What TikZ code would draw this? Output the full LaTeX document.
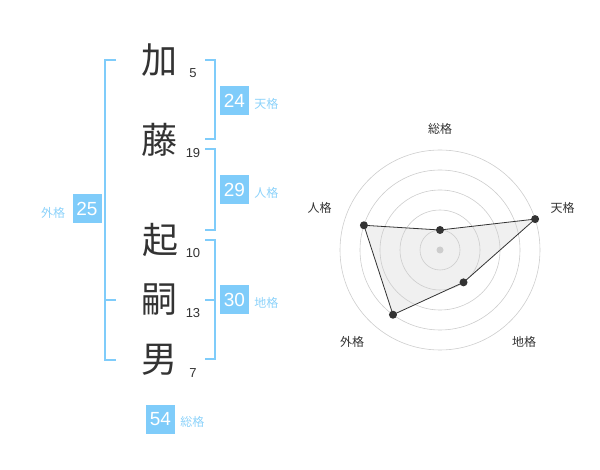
\documentclass[tikz,border=0pt]{standalone}
\usepackage{fontspec}
\setmainfont{Liberation Sans}
\newfontfamily\jpfont{Noto Sans CJK JP}
\usetikzlibrary{positioning}
\definecolor{kakublue}{RGB}{127,204,250}
\definecolor{kakutext}{RGB}{140,210,250}
\definecolor{inkgray}{RGB}{51,51,51}
\definecolor{ringgray}{RGB}{205,205,205}
\definecolor{fillgray}{RGB}{240,240,240}

\tikzset{
  kanji/.style={font=\jpfont\fontsize{36}{36}\selectfont, text=inkgray, inner sep=0pt},
  strokes/.style={font=\fontsize{13}{13}\selectfont, text=inkgray, inner sep=0pt},
  kakubox/.style={fill=kakublue, text=white, minimum size=29pt, inner sep=0pt, font=\fontsize{19}{19}\selectfont},
  kakulabel/.style={font=\jpfont\fontsize{12}{12}\selectfont, text=kakutext, inner sep=0pt},
  bracket/.style={draw=kakublue, line width=2pt},
  axislabel/.style={font=\jpfont\fontsize{12}{12}\selectfont, text=inkgray, inner sep=0pt},
  vertex/.style={circle, fill=inkgray, inner sep=0pt, minimum size=8pt},
}

\begin{document}
\begin{tikzpicture}[x=1pt, y=-1pt]

   \useasboundingbox (0,0) rectangle (600,470);

   % name and stroke counts
   \node[kanji] (ka) at (159,60) {加};
   \node[kanji] (to) at (159,140) {藤};
   \node[kanji] (oki) at (160,240) {起};
   \node[kanji] (tsugu) at (159,300) {嗣};
   \node[kanji] (o) at (159,360) {男};

   \node[strokes] (kacount) at (193,73) {5};
   \node[strokes] (tocount) at (193,153) {19};
   \node[strokes] (okicount) at (193,253) {10};
   \node[strokes] (tsugucount) at (193,313) {13};
   \node[strokes] (ocount) at (193,373) {7};

   % brackets
   \draw[bracket] (116,60) -- (105,60) -- (105,360) -- (116,360);
   \draw[bracket] (105,300) -- (116,300);
   \draw[bracket] (205,60) -- (215,60) -- (215,139) -- (205,139);
   \draw[bracket] (205,149) -- (215,149) -- (215,230) -- (205,230);
   \draw[bracket] (205,240) -- (215,240) -- (215,359) -- (205,359);
   \draw[bracket] (205,300) -- (215,300);

   % kaku values
   \node[kakubox] (tenkaku) at (234.5,100.5) {24};
   \node[kakulabel, right=5pt of tenkaku, yshift=-3pt] (tenlabel) {天格};
   \node[kakubox] (jinkaku) at (234.5,190) {29};
   \node[kakulabel, right=5pt of jinkaku, yshift=-3pt] (jinlabel) {人格};
   \node[kakubox] (chikaku) at (234.5,300) {30};
   \node[kakulabel, right=5pt of chikaku, yshift=-3pt] (chilabel) {地格};
   \node[kakubox] (gaikaku) at (87,209) {25};
   \node[kakulabel, left=7pt of gaikaku, yshift=-4pt] (gailabel) {外格};
   \node[kakubox] (soukaku) at (160.5,419) {54};
   \node[kakulabel, right=5pt of soukaku, yshift=-3pt] (soulabel) {総格};

   % radar chart
   \begin{scope}[shift={(440,250)}, y=1pt]
      \coordinate (sou) at (90:20);
      \coordinate (ten) at (18:100);
      \coordinate (chi) at (-54:40);
      \coordinate (gai) at (234:80);
      \coordinate (jin) at (162:80);

      \fill[fillgray] (sou) -- (ten) -- (chi) -- (gai) -- (jin) -- cycle;
      \foreach \r in {20,40,60,80,100}
         \draw[ringgray, line width=0.6pt] (0,0) circle[radius=\r];
      \draw[inkgray, line width=0.8pt] (sou) -- (ten) -- (chi) -- (gai) -- (jin) -- cycle;
      \node[circle, fill=ringgray, inner sep=0pt, minimum size=7pt] (hub) at (0,0) {};

      \foreach \p in {sou,ten,chi,gai,jin}
         \node[vertex] (dot\p) at (\p) {};

      \node[axislabel] (soutext) at (0,121) {総格};
      \node[axislabel] (tentext) at (122.5,42) {天格};
      \node[axislabel] (jintext) at (-120.5,42) {人格};
      \node[axislabel] (gaitext) at (-88,-92) {外格};
      \node[axislabel] (chitext) at (84,-92) {地格};
   \end{scope}

\end{tikzpicture}
\end{document}
